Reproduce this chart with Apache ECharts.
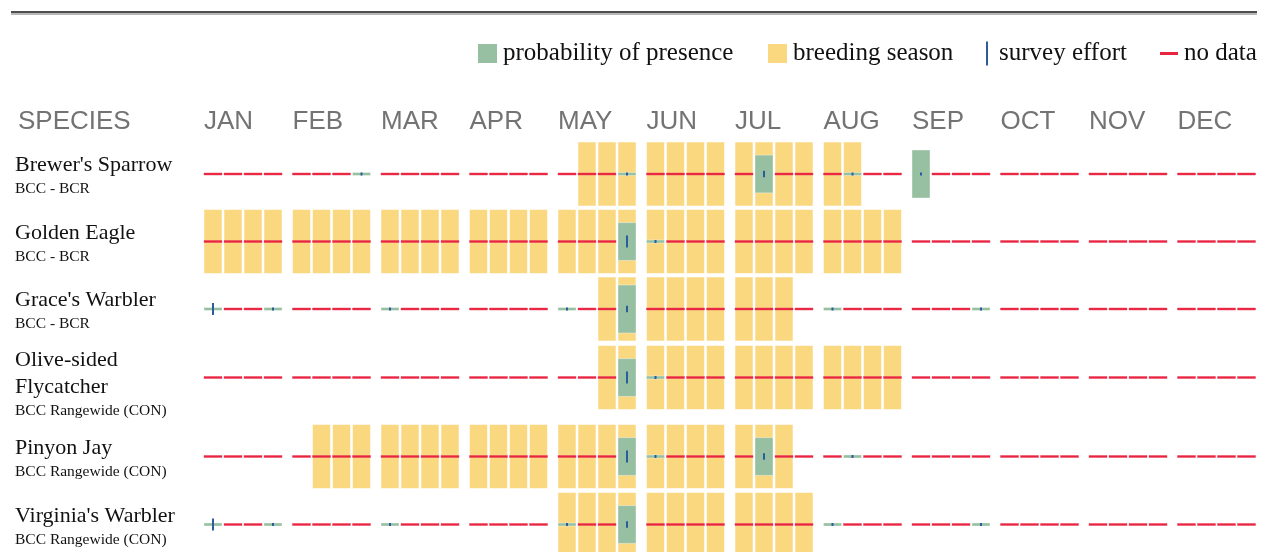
<!DOCTYPE html>
<html>
<head>
<meta charset="utf-8">
<script src="https://cdn.jsdelivr.net/npm/echarts@6/dist/echarts.min.js"></script>
<style>
html,body{margin:0;padding:0;background:#fff;}
#c{width:1270px;height:552px;}
</style>
</head>
<body>
<div id="c"></div>
<script>
const N = null;
const MONTHS = ['JAN','FEB','MAR','APR','MAY','JUN','JUL','AUG','SEP','OCT','NOV','DEC'];
const SPECIES = ["Brewer's Sparrow", "Golden Eagle", "Grace's Warbler", "Olive-sided Flycatcher", "Pinyon Jay", "Virginia's Warbler"];
const STATUS = ['BCC - BCR', 'BCC - BCR', 'BCC - BCR', 'BCC Rangewide (CON)', 'BCC Rangewide (CON)', 'BCC Rangewide (CON)'];
const LEGEND_NAMES = ['probability of presence', 'breeding season', 'survey effort', 'no data'];

// breeding season flag per week (4 weeks per month, JAN..DEC)
const BREEDING_BREWERS_SPARROW = [0,0,0,0, 0,0,0,0, 0,0,0,0, 0,0,0,0, 0,1,1,1, 1,1,1,1, 1,1,1,1, 1,1,0,0, 0,0,0,0, 0,0,0,0, 0,0,0,0, 0,0,0,0];
const BREEDING_GOLDEN_EAGLE     = [1,1,1,1, 1,1,1,1, 1,1,1,1, 1,1,1,1, 1,1,1,1, 1,1,1,1, 1,1,1,1, 1,1,1,1, 0,0,0,0, 0,0,0,0, 0,0,0,0, 0,0,0,0];
const BREEDING_GRACES_WARBLER  = [0,0,0,0, 0,0,0,0, 0,0,0,0, 0,0,0,0, 0,0,1,1, 1,1,1,1, 1,1,1,0, 0,0,0,0, 0,0,0,0, 0,0,0,0, 0,0,0,0, 0,0,0,0];
const BREEDING_OLIVE_SIDED     = [0,0,0,0, 0,0,0,0, 0,0,0,0, 0,0,0,0, 0,0,1,1, 1,1,1,1, 1,1,1,1, 1,1,1,1, 0,0,0,0, 0,0,0,0, 0,0,0,0, 0,0,0,0];
const BREEDING_PINYON_JAY      = [0,0,0,0, 0,1,1,1, 1,1,1,1, 1,1,1,1, 1,1,1,1, 1,1,1,1, 1,1,1,0, 0,0,0,0, 0,0,0,0, 0,0,0,0, 0,0,0,0, 0,0,0,0];
const BREEDING_VIRGINIAS       = [0,0,0,0, 0,0,0,0, 0,0,0,0, 0,0,0,0, 1,1,1,1, 1,1,1,1, 1,1,1,1, 0,0,0,0, 0,0,0,0, 0,0,0,0, 0,0,0,0, 0,0,0,0];

// probability of presence per week (share of the week cell), null = no data
const PROB_BREWERS_SPARROW = [N,N,N,N, N,N,N,0, N,N,N,N, N,N,N,N, N,N,N,0, N,N,N,N, N,0.59,N,N, N,0,N,N, 0.75,N,N,N, N,N,N,N, N,N,N,N, N,N,N,N];
const PROB_GOLDEN_EAGLE     = [N,N,N,N, N,N,N,N, N,N,N,N, N,N,N,N, N,N,N,0.59, 0,N,N,N, N,N,N,N, N,N,N,N, N,N,N,N, N,N,N,N, N,N,N,N, N,N,N,N];
const PROB_GRACES_WARBLER  = [0,N,N,0, N,N,N,N, 0,N,N,N, N,N,N,N, 0,N,N,0.75, N,N,N,N, N,N,N,N, 0,N,N,N, N,N,N,0, N,N,N,N, N,N,N,N, N,N,N,N];
const PROB_OLIVE_SIDED     = [N,N,N,N, N,N,N,N, N,N,N,N, N,N,N,N, N,N,N,0.59, 0,N,N,N, N,N,N,N, N,N,N,N, N,N,N,N, N,N,N,N, N,N,N,N, N,N,N,N];
const PROB_PINYON_JAY      = [N,N,N,N, N,N,N,N, N,N,N,N, N,N,N,N, N,N,N,0.59, 0,N,N,N, N,0.59,N,N, N,0,N,N, N,N,N,N, N,N,N,N, N,N,N,N, N,N,N,N];
const PROB_VIRGINIAS       = [0,N,N,0, N,N,N,N, 0,N,N,N, N,N,N,N, 0,N,N,0.59, N,N,N,N, N,N,N,N, 0,N,N,N, N,N,N,0, N,N,N,N, N,N,N,N, N,N,N,N];

// survey effort per week (share of the week cell), null = no data
const EFFORT_BREWERS_SPARROW = [N,N,N,N, N,N,N,0.04, N,N,N,N, N,N,N,N, N,N,N,0.04, N,N,N,N, N,0.1,N,N, N,0.04,N,N, 0.04,N,N,N, N,N,N,N, N,N,N,N, N,N,N,N];
const EFFORT_GOLDEN_EAGLE     = [N,N,N,N, N,N,N,N, N,N,N,N, N,N,N,N, N,N,N,0.19, 0.04,N,N,N, N,N,N,N, N,N,N,N, N,N,N,N, N,N,N,N, N,N,N,N, N,N,N,N];
const EFFORT_GRACES_WARBLER  = [0.19,N,N,0.04, N,N,N,N, 0.04,N,N,N, N,N,N,N, 0.04,N,N,0.1, N,N,N,N, N,N,N,N, 0.04,N,N,N, N,N,N,0.04, N,N,N,N, N,N,N,N, N,N,N,N];
const EFFORT_OLIVE_SIDED     = [N,N,N,N, N,N,N,N, N,N,N,N, N,N,N,N, N,N,N,0.19, 0.04,N,N,N, N,N,N,N, N,N,N,N, N,N,N,N, N,N,N,N, N,N,N,N, N,N,N,N];
const EFFORT_PINYON_JAY      = [N,N,N,N, N,N,N,N, N,N,N,N, N,N,N,N, N,N,N,0.19, 0.04,N,N,N, N,0.1,N,N, N,0.04,N,N, N,N,N,N, N,N,N,N, N,N,N,N, N,N,N,N];
const EFFORT_VIRGINIAS       = [0.19,N,N,0.04, N,N,N,N, 0.04,N,N,N, N,N,N,N, 0.04,N,N,0.1, N,N,N,N, N,N,N,N, 0.04,N,N,N, N,N,N,0.04, N,N,N,N, N,N,N,N, N,N,N,N];

const BREEDING = [BREEDING_BREWERS_SPARROW, BREEDING_GOLDEN_EAGLE, BREEDING_GRACES_WARBLER, BREEDING_OLIVE_SIDED, BREEDING_PINYON_JAY, BREEDING_VIRGINIAS];
const PROB = [PROB_BREWERS_SPARROW, PROB_GOLDEN_EAGLE, PROB_GRACES_WARBLER, PROB_OLIVE_SIDED, PROB_PINYON_JAY, PROB_VIRGINIAS];
const EFFORT = [EFFORT_BREWERS_SPARROW, EFFORT_GOLDEN_EAGLE, EFFORT_GRACES_WARBLER, EFFORT_OLIVE_SIDED, EFFORT_PINYON_JAY, EFFORT_VIRGINIAS];

// ---- layout / style ----
const MONTH_SPAN = 4.425;      // axis units per month (a week = 1 unit)
const CELL_W = 0.9;            // week cell width in axis units
const X_MAX = 11 * MONTH_SPAN + 3.9;
const ROW_CENTERS = [174, 241.5, 309, 377.5, 456.5, 524.5];
const CELL_H = 64;
const GRID_LEFT = 204, GRID_WIDTH = 1051.5;
const COL = { prob: '#97c0a3', breed: '#fad880', effort: '#2b5c9b', nodata: '#e8243f' };
const NAME_FONT = 'Liberation Serif';
const NAME_SIZE = 22, NAME_LH = 27, STATUS_SIZE = 15.5, LABEL_W = 178;
const weekPos = w => Math.floor(w / 4) * MONTH_SPAN + (w % 4);

function cellBase(api) {
  const c = api.coord([weekPos(api.value(0)), 0]);
  const w = api.size([CELL_W, 0])[0];
  return { x: c[0], y: c[1], w: w };
}
function renderBreeding(params, api) {
  if (!api.value(1)) return null;
  const b = cellBase(api);
  const top = api.coord([weekPos(api.value(0)), 1])[1];
  const h = api.size([0, 2])[1];
  return { type: 'rect', shape: { x: b.x, y: top, width: b.w, height: h },
    style: { fill: COL.breed, stroke: 'rgba(255,255,255,0.55)', lineWidth: 1 } };
}
function renderNoData(params, api) {
  if (!api.value(1)) return null;
  const b = cellBase(api);
  return { type: 'rect', shape: { x: b.x, y: b.y - 1, width: b.w, height: 2 },
    style: { fill: COL.nodata, stroke: 'rgba(236,60,90,0.45)', lineWidth: 1 } };
}
function renderProb(params, api) {
  const p = api.value(1);
  if (p == null || isNaN(p)) return null;
  const b = cellBase(api);
  const h = Math.max(api.size([0, 2 * p])[1], 3);
  return { type: 'rect', shape: { x: b.x, y: b.y - h / 2, width: b.w, height: h },
    style: { fill: COL.prob, stroke: 'rgba(255,255,255,0.35)', lineWidth: 1 } };
}
function renderEffort(params, api) {
  const e = api.value(1);
  if (e == null || isNaN(e)) return null;
  const b = cellBase(api);
  const h = Math.max(api.size([0, 2 * e])[1], 3);
  const bw = 2;
  return { type: 'rect', shape: { x: b.x + b.w / 2 - bw / 2, y: b.y - h / 2, width: bw, height: h },
    style: { fill: COL.effort } };
}

// greedy word wrap of species names to the label column width
const measureCtx = document.createElement('canvas').getContext('2d');
function wrapName(text) {
  measureCtx.font = NAME_SIZE + 'px "' + NAME_FONT + '"';
  const words = text.split(' ');
  const lines = [];
  let cur = '';
  words.forEach(wd => {
    const trial = cur ? cur + ' ' + wd : wd;
    if (cur && measureCtx.measureText(trial).width > LABEL_W) { lines.push(cur); cur = wd; }
    else cur = trial;
  });
  if (cur) lines.push(cur);
  return lines;
}

const grids = [], xAxes = [], yAxes = [], series = [], graphics = [];
SPECIES.forEach((sp, g) => {
  grids.push({ left: GRID_LEFT, width: GRID_WIDTH, top: ROW_CENTERS[g] - CELL_H / 2, height: CELL_H, outerBoundsMode: 'none', containLabel: false });
  xAxes.push({
    gridIndex: g, type: 'value', min: 0, max: X_MAX, interval: MONTH_SPAN,
    show: g === 0, position: 'top',
    axisLine: { show: false }, axisTick: { show: false }, splitLine: { show: false },
    axisLabel: {
      show: g === 0, align: 'left', verticalAlign: 'middle', margin: 20,
      fontFamily: 'Liberation Sans', fontSize: 26, color: '#737373',
      showMinLabel: true, showMaxLabel: true,
      formatter: v => {
        const i = Math.round(v / MONTH_SPAN);
        return (Math.abs(v / MONTH_SPAN - i) < 1e-6 && i < MONTHS.length) ? MONTHS[i] : '';
      }
    }
  });
  yAxes.push({ gridIndex: g, type: 'value', min: -1, max: 1, show: false });
  const common = { type: 'custom', xAxisIndex: g, yAxisIndex: g, silent: true, encode: { x: 0, y: 1 } };
  series.push(Object.assign({}, common, { name: 'breeding season', z: 1, itemStyle: { color: COL.breed },
    renderItem: renderBreeding, data: BREEDING[g].map((b, i) => [i, b]) }));
  series.push(Object.assign({}, common, { name: 'no data', z: 2, itemStyle: { color: COL.nodata },
    renderItem: renderNoData, data: PROB[g].map((p, i) => [i, p == null ? 1 : 0]) }));
  series.push(Object.assign({}, common, { name: 'probability of presence', z: 3, itemStyle: { color: COL.prob },
    renderItem: renderProb, data: PROB[g].map((p, i) => [i, p == null ? '-' : p]) }));
  series.push(Object.assign({}, common, { name: 'survey effort', z: 4, itemStyle: { color: COL.effort },
    renderItem: renderEffort, data: EFFORT[g].map((e, i) => [i, e == null ? '-' : e]) }));

  // species label block
  const lines = wrapName(sp);
  const top = ROW_CENTERS[g] - 21.8 - (lines.length - 1) * 9;
  lines.forEach((ln, i) => {
    graphics.push({ type: 'text', silent: true, x: 15, y: top + 13.5 + NAME_LH * i,
      style: { text: ln, fontFamily: NAME_FONT, fontSize: NAME_SIZE, fill: '#111', verticalAlign: 'middle', align: 'left' } });
  });
  graphics.push({ type: 'text', silent: true, x: 15, y: top + NAME_LH * lines.length + 10,
    style: { text: STATUS[g], fontFamily: NAME_FONT, fontSize: STATUS_SIZE, fill: '#111', verticalAlign: 'middle', align: 'left' } });
});

graphics.push({ type: 'rect', silent: true, shape: { x: 11, y: 11, width: 1246, height: 2 }, style: { fill: '#4f4f4f' } });
graphics.push({ type: 'rect', silent: true, shape: { x: 11, y: 13, width: 1246, height: 2 }, style: { fill: '#b8b8b8' } });
graphics.push({ type: 'text', silent: true, x: 18, y: 122,
  style: { text: 'SPECIES', fontFamily: 'Liberation Sans', fontSize: 26, fill: '#737373', verticalAlign: 'middle', align: 'left' } });

const legendText = { fontFamily: 'Liberation Serif', fontSize: 25, color: '#111' };
const LEG_TOP = 41;
const legends = [
  { left: 478, top: LEG_TOP, padding: 0, itemWidth: 19, itemHeight: 19, icon: 'rect', selectedMode: false,
    data: [{ name: LEGEND_NAMES[0], itemStyle: { color: COL.prob } }], textStyle: Object.assign({ padding: [0, 0, 0, 1] }, legendText) },
  { left: 768, top: LEG_TOP, padding: 0, itemWidth: 19, itemHeight: 19, icon: 'rect', selectedMode: false,
    data: [{ name: LEGEND_NAMES[1], itemStyle: { color: COL.breed } }], textStyle: Object.assign({ padding: [0, 0, 0, 1] }, legendText) },
  { left: 986, top: LEG_TOP, padding: 0, itemWidth: 2, itemHeight: 24, icon: 'rect', selectedMode: false,
    data: [{ name: LEGEND_NAMES[2], itemStyle: { color: COL.effort } }], textStyle: Object.assign({ padding: [0, 0, 0, 6] }, legendText) },
  { left: 1160, top: LEG_TOP, padding: 0, itemWidth: 18, itemHeight: 3, icon: 'rect', selectedMode: false,
    data: [{ name: LEGEND_NAMES[3], itemStyle: { color: COL.nodata } }], textStyle: Object.assign({ padding: [0, 0, 0, 1] }, legendText) }
];

const chart = echarts.init(document.getElementById('c'), null, { renderer: 'canvas' });
chart.setOption({
  animation: false,
  backgroundColor: '#fff',
  legend: legends,
  grid: grids,
  xAxis: xAxes,
  yAxis: yAxes,
  series: series,
  graphic: graphics
});
</script>
</body>
</html>
